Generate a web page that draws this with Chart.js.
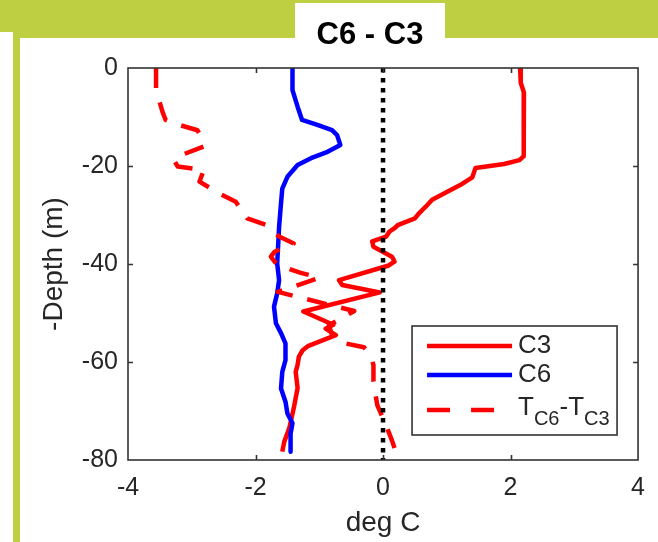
<!DOCTYPE html>
<html>
<head>
<meta charset="utf-8">
<script src="https://cdn.jsdelivr.net/npm/chart.js@4.4.1/dist/chart.umd.min.js"></script>
<style>
html,body{margin:0;padding:0;width:658px;height:542px;overflow:hidden;background:#bfcf42;}
#strip{position:absolute;left:0;top:32px;width:13px;height:510px;background:#fff;}
#main{position:absolute;left:20px;top:38px;width:638px;height:504px;background:#fff;}
#tbox{position:absolute;left:295px;top:3px;width:150px;height:40px;background:#fff;}
#wrap{position:absolute;left:0;top:0;width:658px;height:542px;}
</style>
</head>
<body>
<div id="strip"></div>
<div id="main"></div>
<div id="tbox"></div>
<div id="wrap"><canvas id="c" width="658" height="542"></canvas></div>
<script>
// ---- data ----
const titleText = 'C6 - C3';
const xTicks = [-4, -2, 0, 2, 4];
const yTicks = [0, -20, -40, -60, -80];

const c3Depth = [0, -3, -5, -10, -15, -18, -18.8, -19.6, -20.4, -22.3, -23.9, -26.9, -28.3, -29.7, -30.7, -32, -32.8, -33.4, -34.4, -35.4, -36.5, -38.5, -39.5, -40.3, -43.3, -44.3, -45.8, -49.7, -52.4, -53.2, -54.5, -56.7, -57.6, -58.9, -60.6, -62, -65.3, -69.4, -73.5, -76.3, -78.3];
const c3Temp  = [2.15, 2.16, 2.21, 2.21, 2.21, 2.2, 2.14, 1.9, 1.45, 1.40, 1.21, 0.77, 0.67, 0.56, 0.50, 0.24, 0.17, 0.10, 0.05, -0.17, -0.15, 0.14, 0.18, 0.09, -0.69, -0.64, -0.05, -1.25, -0.78, -0.9, -0.74, -1.17, -1.26, -1.32, -1.34, -1.37, -1.34, -1.40, -1.47, -1.55, -1.58];

const c6Depth = [0, -4.5, -7.9, -10.6, -11.6, -12.7, -13.7, -15.7, -17.1, -18.4, -19.8, -22.2, -24.6, -27.6, -32.4, -39.9, -43.3, -46, -48.7, -52.1, -54.1, -56.2, -59.6, -62, -65.4, -68.1, -70.5, -72.5, -74.6, -78.3];
const c6Temp  = [-1.42, -1.42, -1.34, -1.27, -1.03, -0.80, -0.72, -0.67, -0.87, -1.13, -1.34, -1.5, -1.58, -1.6, -1.63, -1.66, -1.63, -1.66, -1.71, -1.68, -1.6, -1.53, -1.53, -1.58, -1.6, -1.53, -1.5, -1.42, -1.45, -1.45];

const diffDepth = [0, -4.5, -8.9, -10.6, -11.3, -12.7, -14.7, -16, -17.8, -18.8, -20.1, -20.8, -23.2, -25.6, -27.3, -30.7, -32, -34.4, -35.8, -37.5, -38.5, -40.2, -41.8, -42.8, -45.7, -49.6, -52.5, -54.5, -56.2, -57, -58.5, -60.6, -64, -66.5, -68.8, -71.8, -74, -76, -78.3];
const diffTemp  = [-3.56, -3.56, -3.46, -3.41, -3.28, -2.91, -2.83, -2.81, -3.17, -3.28, -3.22, -2.81, -2.88, -2.57, -2.31, -2.13, -1.84, -1.63, -1.40, -1.70, -1.76, -1.66, -1.29, -1.0, -1.65, -0.45, -0.85, -0.8, -0.59, -0.3, -0.2, -0.15, -0.15, -0.12, -0.09, 0.01, 0.08, 0.14, 0.2];

const zeroX = [0, 0];
const zeroDepth = [0, -80];

const seriesNames = ['C3', 'C6', 'T_C6-T_C3'];

const pts = (xs, ys) => xs.map((v, i) => ({x: v, y: ys[i]}));

const FONT = '"Liberation Sans", Arial, Helvetica, sans-serif';
const TXT = '#262626';

const framePlugin = {
  id: 'frame',
  afterDatasetsDraw(chart) {
    const {ctx, chartArea: a, scales: {x, y}} = chart;
    ctx.save();
    ctx.strokeStyle = '#333333';
    ctx.lineWidth = 1.6;
    ctx.strokeRect(a.left, a.top, a.right - a.left, a.bottom - a.top);
    const tl = 5;
    ctx.beginPath();
    xTicks.forEach(v => {
      if (v === x.min || v === x.max) return;
      const px = Math.round(x.getPixelForValue(v)) + 0.5;
      ctx.moveTo(px, a.bottom); ctx.lineTo(px, a.bottom - tl);
      ctx.moveTo(px, a.top); ctx.lineTo(px, a.top + tl);
    });
    yTicks.forEach(v => {
      if (v === y.min || v === y.max) return;
      const py = Math.round(y.getPixelForValue(v)) + 0.5;
      ctx.moveTo(a.left, py); ctx.lineTo(a.left + tl, py);
      ctx.moveTo(a.right, py); ctx.lineTo(a.right - tl, py);
    });
    ctx.stroke();
    ctx.restore();
  },
  afterDraw(chart) {
    const {ctx, chartArea: a} = chart;
    ctx.save();
    // title in its white tab
    ctx.fillStyle = '#000';
    ctx.font = 'bold 31px ' + FONT;
    ctx.textAlign = 'center';
    ctx.textBaseline = 'middle';
    ctx.fillText(titleText, 370, 35);
    // legend
    const w = 205, h = 109;
    const L = a.right - 21 - w, T = a.bottom - 25 - h;
    ctx.fillStyle = '#fff';
    ctx.fillRect(L, T, w, h);
    ctx.strokeStyle = '#333333';
    ctx.lineWidth = 1.6;
    ctx.strokeRect(L, T, w, h);
    const x0 = L + 15, x1 = L + 100, tx = L + 106;
    const rows = [T + 20, T + 49, T + 84];
    ctx.lineWidth = 4.5;
    ctx.lineCap = 'butt';
    ctx.strokeStyle = '#ff0000';
    ctx.beginPath(); ctx.moveTo(x0, rows[0]); ctx.lineTo(x1, rows[0]); ctx.stroke();
    ctx.strokeStyle = '#0000ff';
    ctx.beginPath(); ctx.moveTo(x0, rows[1]); ctx.lineTo(x1, rows[1]); ctx.stroke();
    ctx.strokeStyle = '#ff0000';
    ctx.setLineDash([23, 21]);
    ctx.beginPath(); ctx.moveTo(x0, rows[2]); ctx.lineTo(x1, rows[2]); ctx.stroke();
    ctx.setLineDash([]);
    ctx.fillStyle = TXT;
    ctx.textBaseline = 'middle';
    ctx.textAlign = 'left';
    ctx.font = '26px ' + FONT;
    ctx.fillText(seriesNames[0], tx, rows[0]);
    ctx.fillText(seriesNames[1], tx, rows[1]);
    const parts = seriesNames[2].split('-').map(s => s.split('_'));
    let cx = tx;
    const big = '26px ' + FONT, small = '20px ' + FONT;
    parts.forEach((p, i) => {
      if (i > 0) { ctx.font = big; ctx.fillText('-', cx, rows[2] - 2); cx += ctx.measureText('-').width; }
      ctx.font = big; ctx.fillText(p[0], cx, rows[2] - 2); cx += ctx.measureText(p[0]).width;
      ctx.font = small; ctx.fillText(p[1], cx, rows[2] + 9); cx += ctx.measureText(p[1]).width;
    });
    ctx.restore();
  }
};

new Chart(document.getElementById('c'), {
  type: 'scatter',
  data: {
    datasets: [
      {label: 'zero', data: pts(zeroX, zeroDepth), showLine: true, borderColor: '#000', borderWidth: 4.5, borderDash: [4.5, 5.5], borderCapStyle: 'butt', pointRadius: 0, order: 0},
      {label: seriesNames[2], data: pts(diffTemp, diffDepth), showLine: true, borderColor: '#ff0000', borderWidth: 4.5, borderDash: [20, 15], borderCapStyle: 'butt', borderJoinStyle: 'round', pointRadius: 0, order: 1},
      {label: seriesNames[1], data: pts(c6Temp, c6Depth), showLine: true, borderColor: '#0000ff', borderWidth: 4.5, borderJoinStyle: 'round', pointRadius: 0, order: 2},
      {label: seriesNames[0], data: pts(c3Temp, c3Depth), showLine: true, borderColor: '#ff0000', borderWidth: 4.5, borderJoinStyle: 'round', pointRadius: 0, order: 3}
    ]
  },
  options: {
    responsive: false,
    animation: false,
    events: [],
    layout: {padding: {left: 0, right: 14, top: 68, bottom: 0}},
    plugins: {
      legend: {display: false},
      tooltip: {enabled: false},
      title: {display: false}
    },
    scales: {
      x: {
        type: 'linear', min: -4, max: 4,
        afterBuildTicks: s => { s.ticks = xTicks.map(v => ({value: v})); },
        afterFit: s => { s.height = 82; },
        grid: {display: false, drawTicks: false},
        border: {display: false},
        ticks: {color: TXT, font: {family: FONT, size: 25}, padding: 13, maxRotation: 0, autoSkip: false},
        title: {display: true, text: 'deg C', color: TXT, font: {family: FONT, size: 28, lineHeight: 1.2}, padding: {top: 0, bottom: 2}}
      },
      y: {
        type: 'linear', min: -80, max: 0,
        afterBuildTicks: s => { s.ticks = yTicks.map(v => ({value: v})); },
        afterFit: s => { s.width = 128; },
        grid: {display: false, drawTicks: false},
        border: {display: false},
        ticks: {color: TXT, font: {family: FONT, size: 25}, padding: 10, autoSkip: false},
        title: {display: true, text: '-Depth (m)', color: TXT, font: {family: FONT, size: 28, lineHeight: 1.2}, padding: {top: 37, bottom: 0}}
      }
    }
  },
  plugins: [framePlugin]
});
</script>
</body>
</html>
